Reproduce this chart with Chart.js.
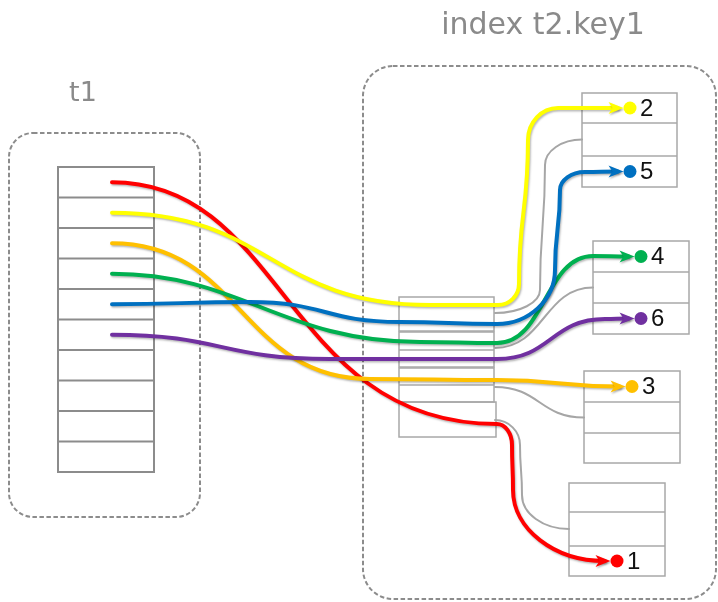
<!DOCTYPE html>
<html><head><meta charset="utf-8">
<script src="https://cdn.jsdelivr.net/npm/chart.js@4/dist/chart.umd.min.js"></script>
<style>html,body{margin:0;padding:0;background:#fff;overflow:hidden}#wrap{width:718px;height:602px}</style>
</head><body><div id="wrap"><canvas id="c" width="718" height="602"></canvas></div>
<script>
// ---------------- data ----------------
const t1Title = 't1';
const indexTitle = 'index t2.key1';
const t1RowCount = 10;
const t1Keys = ['1', '2', '3', '4', '5', '6'];            // key held by t1 rows 0..5
const leafPages = [['2', '', '5'], ['4', '', '6'], ['3', '', ''], ['', '', '1']];
const keyOrder = ['1', '2', '3', '4', '5', '6'];
// index entries that point to the empty leaf slots: [page, slot]
const grayTargets = [[0, 1], [1, 1], [2, 1], [3, 1]];

// ---------------- styles / layout ----------------
const keyColors = { '1': '#ff0000', '2': '#ffff00', '3': '#ffc000', '4': '#00b050', '5': '#0070c0', '6': '#7030a0' };
const layout = {
  t1Box: { x0: 9, y0: 133, x1: 200, y1: 517, r: 24 },
  idxBox: { x0: 363, y0: 66, x1: 716, y1: 599, r: 30 },
  t1Table: { x0: 58, x1: 154, y0: 167, rowH: 30.5, startX: 112 },
  idxTable: { boxes: [[399, 494, 297, 331, []], [399, 494, 332, 367, [350]], [399, 494, 368, 402, [385]], [399, 496, 402, 437, []]] },
  leaf: [
    { x0: 582, x1: 677, rows: [93, 123, 156, 187] },
    { x0: 593, x1: 689, rows: [241, 272, 303, 334] },
    { x0: 584, x1: 680, rows: [371, 402, 433, 463] },
    { x0: 569, x1: 665, rows: [483, 512, 546, 576] }
  ],
  dotOffset: 48, dotR: 6.5, labelGap: 11, arrowLen: 15, arrowHalf: 6,
  // intermediate route nodes per key [x, y, tangent, optional [k1,k2]]
  routes: {
    '1': [[497, 424, 'h', [0.45, 0.55]], [512, 445, 'v'], [513, 490, 'v']],
    '2': [[430, 305, 'h'], [498, 305, 'h'], [519, 284, 'v'], [528, 140, 'v'], [558, 108, 'h']],
    '3': [[370, 379, 'h'], [497, 380, 'h']],
    '4': [[420, 342, 'h', [0.42, 0.45]], [497, 343, 'h'], [593, 256, 'h']],
    '5': [[250, 302, 'h'], [400, 322, 'h'], [497, 324, 'h'], [555, 270, 'v'], [560, 190, 'v'], [585, 172, 'h']],
    '6': [[330, 359, 'h'], [497, 359, 'h'], [605, 319, 'h']]
  },
  grayRoutes: [
    [[495, 313, 'h'], [540, 290, 'v'], [545, 165, 'v']],
    [[495, 348, 'h']],
    [[495, 387, 'h']],
    [[495, 420, 'h'], [520, 445, 'v'], [522, 495, 'v']]
  ],
  drawOrder: ['1', '2', '3', '4', '5', '6']
};

function slotCenter(p, s) { const r = layout.leaf[p].rows; return (r[s] + r[s + 1]) / 2; }
function keyTarget(k) {
  for (let p = 0; p < leafPages.length; p++) {
    const s = leafPages[p].indexOf(k);
    if (s >= 0) return { p, s, x: layout.leaf[p].x0 + layout.dotOffset, y: slotCenter(p, s) };
  }
  return null;
}
const dotPoints = keyOrder.map(k => { const t = keyTarget(k); return { x: t.x, y: t.y }; });
const dotColors = keyOrder.map(k => keyColors[k]);

const diagram = {
  id: 'diagram',
  beforeDatasetsDraw(chart) {
    const ctx = chart.ctx, sx = chart.scales.x, sy = chart.scales.y;
    const X = v => sx.getPixelForValue(v), Y = v => sy.getPixelForValue(v);
    ctx.save();
    // dashed rounded boxes
    ctx.strokeStyle = '#8c8c8c'; ctx.lineWidth = 2; ctx.setLineDash([4.5, 2.5]);
    [layout.t1Box, layout.idxBox].forEach(b => {
      ctx.beginPath();
      ctx.roundRect(X(b.x0), Y(b.y0), X(b.x1) - X(b.x0), Y(b.y1) - Y(b.y0), b.r);
      ctx.stroke();
    });
    ctx.setLineDash([]);
    // titles
    ctx.fillStyle = '#8a8a8a'; ctx.textAlign = 'center'; ctx.textBaseline = 'alphabetic';
    ctx.font = '27px "DejaVu Sans"';
    ctx.fillText(t1Title, X(83), Y(101));
    ctx.font = '30px "DejaVu Sans"';
    ctx.fillText(indexTitle, X(543), Y(34));
    // t1 table
    const t = layout.t1Table;
    ctx.strokeStyle = '#8c8c8c'; ctx.lineWidth = 2;
    ctx.strokeRect(X(t.x0), Y(t.y0), X(t.x1) - X(t.x0), Y(t.y0 + t.rowH * t1RowCount) - Y(t.y0));
    for (let i = 1; i < t1RowCount; i++) {
      ctx.beginPath(); ctx.moveTo(X(t.x0), Y(t.y0 + i * t.rowH)); ctx.lineTo(X(t.x1), Y(t.y0 + i * t.rowH)); ctx.stroke();
    }
    // index table
    ctx.strokeStyle = '#a8a8a8'; ctx.lineWidth = 1.5;
    layout.idxTable.boxes.forEach(b => {
      ctx.strokeRect(X(b[0]), Y(b[2]), X(b[1]) - X(b[0]), Y(b[3]) - Y(b[2]));
      b[4].forEach(yy => { ctx.beginPath(); ctx.moveTo(X(b[0]), Y(yy)); ctx.lineTo(X(b[1]), Y(yy)); ctx.stroke(); });
    });
    // leaf tables
    layout.leaf.forEach(l => {
      ctx.strokeRect(X(l.x0), Y(l.rows[0]), X(l.x1) - X(l.x0), Y(l.rows[3]) - Y(l.rows[0]));
      [1, 2].forEach(i => { ctx.beginPath(); ctx.moveTo(X(l.x0), Y(l.rows[i])); ctx.lineTo(X(l.x1), Y(l.rows[i])); ctx.stroke(); });
    });
    function route(pts) {
      ctx.beginPath(); ctx.moveTo(X(pts[0][0]), Y(pts[0][1]));
      for (let i = 1; i < pts.length; i++) {
        const a = pts[i - 1], b = pts[i], dx = b[0] - a[0], dy = b[1] - a[1];
        const kd = a[2] === b[2] ? 0.5 : 0.55;
        const k1 = b[3] ? b[3][0] : kd, k2 = b[3] ? b[3][1] : kd;
        const c1 = a[2] === 'h' ? [a[0] + k1 * dx, a[1]] : [a[0], a[1] + k1 * dy];
        const c2 = b[2] === 'h' ? [b[0] - k2 * dx, b[1]] : [b[0], b[1] - k2 * dy];
        ctx.bezierCurveTo(X(c1[0]), Y(c1[1]), X(c2[0]), Y(c2[1]), X(b[0]), Y(b[1]));
      }
      ctx.stroke();
    }
    // gray pointers
    ctx.strokeStyle = '#a6a6a6'; ctx.lineWidth = 2; ctx.lineCap = 'round';
    layout.grayRoutes.forEach((r, i) => {
      const g = grayTargets[i];
      route(r.concat([[layout.leaf[g[0]].x0, slotCenter(g[0], g[1]), 'h']]));
    });
    // coloured pointers
    ctx.shadowColor = 'rgba(0,0,0,0.28)'; ctx.shadowBlur = 2; ctx.shadowOffsetX = 1; ctx.shadowOffsetY = 1.5;
    layout.drawOrder.forEach(k => {
      const row = t1Keys.indexOf(k);
      const start = [t.startX, t.y0 + (row + 0.5) * t.rowH, 'h'];
      const tg = keyTarget(k);
      const tipX = tg.x - layout.dotR;
      ctx.strokeStyle = keyColors[k]; ctx.fillStyle = keyColors[k]; ctx.lineWidth = 4;
      route([start].concat(layout.routes[k], [[tipX - 6, tg.y, 'h']]));
      ctx.beginPath();
      ctx.moveTo(X(tipX), Y(tg.y));
      ctx.lineTo(X(tipX - layout.arrowLen), Y(tg.y - layout.arrowHalf));
      ctx.lineTo(X(tipX - layout.arrowLen + 4), Y(tg.y));
      ctx.lineTo(X(tipX - layout.arrowLen), Y(tg.y + layout.arrowHalf));
      ctx.closePath(); ctx.fill();
    });
    ctx.restore();
  },
  afterDatasetsDraw(chart) {
    const ctx = chart.ctx, sx = chart.scales.x, sy = chart.scales.y;
    ctx.save();
    ctx.fillStyle = '#111'; ctx.font = '24px "Liberation Sans"'; ctx.textAlign = 'left'; ctx.textBaseline = 'middle';
    keyOrder.forEach(k => {
      const tg = keyTarget(k);
      ctx.fillText(k, sx.getPixelForValue(tg.x + layout.labelGap - 1), sy.getPixelForValue(tg.y + 1));
    });
    ctx.restore();
  }
};

new Chart(document.getElementById('c').getContext('2d'), {
  type: 'scatter',
  data: { datasets: [{ data: dotPoints, pointRadius: 6.5, pointBackgroundColor: dotColors, pointBorderWidth: 0, pointHoverRadius: 6.5, clip: false }] },
  options: {
    responsive: false, animation: false, events: [],
    layout: { padding: 0, autoPadding: false },
    scales: {
      x: { type: 'linear', min: 0, max: 718, display: false },
      y: { type: 'linear', min: 0, max: 602, reverse: true, display: false }
    },
    plugins: { legend: { display: false }, tooltip: { enabled: false }, title: { display: false } }
  },
  plugins: [diagram]
});
</script>
</body></html>
